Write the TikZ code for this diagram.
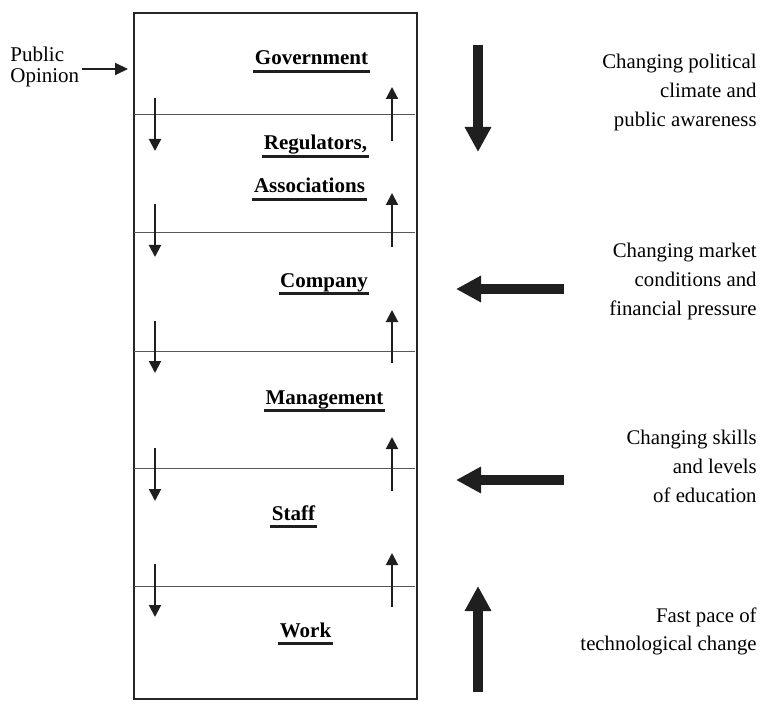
\documentclass[tikz,border=0pt]{standalone}
\usepackage{fontspec}
\setmainfont{Liberation Serif}
\usetikzlibrary{arrows.meta}

\tikzset{
	level/.style={font=\fontsize{10.5}{12}\selectfont\bfseries, inner xsep=0.6pt, inner ysep=0pt, anchor=base},
	note/.style={font=\fontsize{10.4}{14.5}\selectfont, align=right, inner sep=0pt, anchor=base east},
	bar/.style={line width=1.5pt, color=black!88},
	slim/.style={line width=1pt, color=black!88, -{Triangle[width=6pt,length=6pt]}},
	fat/.style={line width=5pt, color=black!88, -{Triangle[width=12.5pt,length=12.5pt]}}
}

\begin{document}
\begin{tikzpicture}[x=0.5pt, y=-0.5pt]
			%%%%% START %%%%%
			\useasboundingbox (0, 0) rectangle (764, 705);
			
			% the stack of levels
			\draw[line width=0.85pt, color=black!85] (134, 13) rectangle (417, 699);
			\foreach \y in {115, 233, 351, 468, 586}
				\draw[line width=0.5pt, color=black!65] (134, \y) -- (415, \y);
			
			% top-down and bottom-up flows
			\foreach \a/\b in {98/151, 204/257, 321/373, 448/501, 564/617}
				\draw[slim] (155, \a) -- (155, \b);
			\foreach \a/\b in {141/87, 247/193, 363/310, 491/437, 607/553}
				\draw[slim] (392, \a) -- (392, \b);
			
			\node[level] (gov) at (311.5, 65) {Government};
			\node[level] (reg) at (315.5, 150) {Regulators,};
			\node[level] (ass) at (309.5, 193) {Associations};
			\node[level] (com) at (324, 287) {Company};
			\node[level] (man) at (324.5, 404) {Management};
			\node[level] (sta) at (293.5, 520) {Staff};
			\node[level] (wor) at (305.5, 637) {Work};
			\foreach \n in {gov, reg, ass, com, man, sta, wor}
				\draw[bar] ([yshift=-3.4pt]\n.base west) -- ([yshift=-3.4pt]\n.base east);
			
			% public opinion feeding in from the left (base = last line)
			\node[font=\fontsize{10.5}{10.5}\selectfont, align=left, inner sep=0pt, anchor=base west] (pub) at (10, 83) {Public\\Opinion};
			\coordinate (entry) at (128, 69);
			\draw[line width=1pt, color=black!88, -{Triangle[width=6pt,length=6.5pt]}] ([xshift=1pt]pub.east |- entry) -- (entry);
			
			% outside pressures
			\draw[fat] (478, 45) -- (478, 152);
			\draw[fat] (564, 289) -- (456, 289);
			\draw[fat] (564, 480) -- (456, 480);
			\draw[fat] (478, 692) -- (478, 586);
			
			\node[note] (pol) at (757, 127) {Changing political\\climate and\\public awareness};
			\node[note] (mkt) at (757, 315) {Changing market\\conditions and\\financial pressure};
			\node[note] (edu) at (757, 502) {Changing skills\\and levels\\of education};
			\node[note, font=\fontsize{10.4}{14}\selectfont] (tec) at (757, 650) {Fast pace of\\technological change};
			
			%%%%% END %%%%%
		\end{tikzpicture}
\end{document}
